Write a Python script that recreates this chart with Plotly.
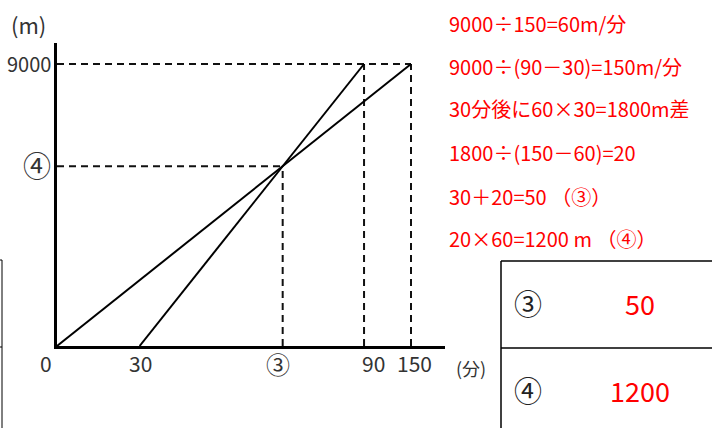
import plotly.graph_objects as go

# ---- data ----
line_a_time = [0, 150]          # 60 m/分
line_a_dist = [0, 9000]
line_b_time = [30, 90]          # 150 m/分
line_b_dist = [0, 9000]
x_tick_labels = ["0", "30", "③", "90", "150"]
y_tick_labels = ["9000", "④"]
total_dist = 9000
notes = [
    "9000÷150=60m/分",
    "9000÷(90－30)=150m/分",
    "30分後に60×30=1800m差",
    "1800÷(150－60)=20",
    "30＋20=50 （③）",
    "20×60=1200 m （④）",
]
table_keys = ["③", "④"]
table_vals = ["50", "1200"]

# ---- schematic horizontal scale of the hand-drawn figure (layout) ----
SCHEM = {0: 0.0, 30: 35.0, 90: 130.1, 150: 150.0}
def sx(t):
    return SCHEM[t]

W, H = 712, 428
L, R, T, B = 57, 267, 43, 82
PW, PH = W - L - R, H - T - B
XMAX = PW / 2.36
YMAX = PH * 9000 / 282

def fx(px):
    return (px - L) / PW
def fy(py):
    return (H - B - py) / PH

ax_ = [sx(t) for t in line_a_time]
bx_ = [sx(t) for t in line_b_time]
# intersection
sa = (line_a_dist[1] - line_a_dist[0]) / (ax_[1] - ax_[0])
sb = (line_b_dist[1] - line_b_dist[0]) / (bx_[1] - bx_[0])
xi = (sb * bx_[0] - sa * ax_[0]) / (sb - sa)
yi = sa * (xi - ax_[0])

FONT = "Noto Sans CJK JP"
fig = go.Figure()
dash = "7px,5px"
dcol = "#111"
# dashed guides
fig.add_trace(go.Scatter(x=[0, ax_[1]], y=[total_dist, total_dist], mode="lines",
                         line=dict(color=dcol, width=2, dash=dash), hoverinfo="skip"))
fig.add_trace(go.Scatter(x=[0, xi], y=[yi, yi], mode="lines",
                         line=dict(color=dcol, width=2, dash=dash), hoverinfo="skip"))
for xv, yv in [(xi, yi), (bx_[1], total_dist), (ax_[1], total_dist)]:
    fig.add_trace(go.Scatter(x=[xv, xv], y=[0, yv], mode="lines",
                             line=dict(color=dcol, width=2, dash=dash), hoverinfo="skip"))
# main lines
fig.add_trace(go.Scatter(x=ax_, y=line_a_dist, mode="lines",
                         line=dict(color="black", width=2), hoverinfo="skip"))
fig.add_trace(go.Scatter(x=bx_, y=line_b_dist, mode="lines",
                         line=dict(color="black", width=2), hoverinfo="skip"))

ann = []
def txt(x, y, text, size, color, xanchor="center", xref="paper", yref="paper", xshift=0, yshift=0):
    ann.append(dict(x=x, y=y, xref=xref, yref=yref, text=text, showarrow=False,
                    xanchor=xanchor, yanchor="middle", xshift=xshift, yshift=yshift,
                    font=dict(family=FONT, size=size, color=color)))

# x tick labels
xpos = [sx(0), sx(30), xi, sx(90), sx(150)]
xshift = [-11, 1, -5, 9, 3]
xsize = [21, 21, 24, 21, 21]
for v, lab, sh, fs in zip(xpos, x_tick_labels, xshift, xsize):
    txt(v, 0, lab, fs, "#333", xref="x", yref="y", xshift=sh, yshift=-17)
# y tick labels
txt(0, total_dist, y_tick_labels[0], 20, "#333", xanchor="right", xref="x", yref="y", xshift=-4, yshift=1)
txt(0, yi, y_tick_labels[1], 28, "#333", xref="x", yref="y", xshift=-20, yshift=1)
# axis unit labels
txt(fx(28), fy(24), "(m)", 22, "#333")
txt(fx(471), fy(368), "(分)", 18, "#333")
# red notes
ys = [23, 66, 108, 152, 196, 238]
for t, y in zip(notes, ys):
    txt(fx(447), fy(y), t, 20, "#ff0000", xanchor="left")
# table
for k, v, y in zip(table_keys, table_vals, [303, 390]):
    txt(fx(528), fy(y), k, 28, "#222")
    txt(fx(640), fy(y), v, 27, "#ff0000")

shapes = []
lc = dict(color="black", width=1.5)
shapes.append(dict(type="line", xref="paper", yref="paper", x0=fx(501), x1=fx(501), y0=fy(261), y1=fy(430), line=lc))
shapes.append(dict(type="line", xref="paper", yref="paper", x0=fx(501), x1=fx(714), y0=fy(261), y1=fy(261), line=lc))
shapes.append(dict(type="line", xref="paper", yref="paper", x0=fx(501), x1=fx(714), y0=fy(348), y1=fy(348), line=lc))
# partial table at left edge
shapes.append(dict(type="line", xref="paper", yref="paper", x0=fx(2), x1=fx(2), y0=fy(260), y1=fy(430), line=dict(color="black", width=1)))
shapes.append(dict(type="line", xref="paper", yref="paper", x0=fx(-2), x1=fx(2), y0=fy(260), y1=fy(260), line=dict(color="black", width=1)))
shapes.append(dict(type="line", xref="paper", yref="paper", x0=fx(-2), x1=fx(2), y0=fy(347), y1=fy(347), line=dict(color="black", width=1)))

fig.update_layout(
    width=W, height=H, margin=dict(l=L, r=R, t=T, b=B, autoexpand=False),
    paper_bgcolor="white", plot_bgcolor="white", showlegend=False,
    annotations=ann, shapes=shapes,
    xaxis=dict(range=[0, XMAX], showgrid=False, zeroline=False, showline=True,
               linecolor="black", linewidth=3, showticklabels=False, ticks=""),
    yaxis=dict(range=[0, YMAX], showgrid=False, zeroline=False, showline=True,
               linecolor="black", linewidth=3, showticklabels=False, ticks=""),
)
fig.write_html("out.html", config={"displayModeBar": False},
               post_script="document.body.style.margin='0';document.body.style.overflow='hidden';")
